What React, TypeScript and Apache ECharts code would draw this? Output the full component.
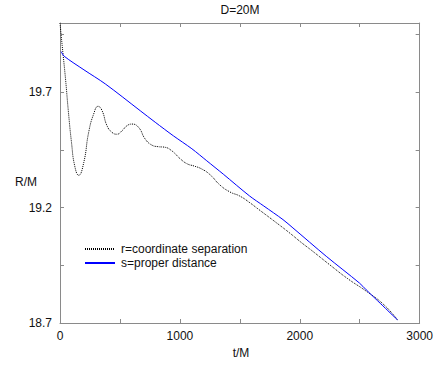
import React, { useEffect, useRef } from "react";
import * as echarts from "echarts";

const titleText = "D=20M";
const xName = "t/M";
const yName = "R/M";
const rName = "r=coordinate separation";
const sName = "s=proper distance";

const rTimes = [0, 18, 46, 68, 96, 123, 156, 198, 239, 281, 318, 351, 392, 434, 475, 517, 559, 600, 655, 711, 766, 820, 870, 933, 1002, 1060, 1120, 1180, 1251, 1334, 1417, 1500, 1584, 1650, 1806, 1916, 2010, 2110, 2248, 2400, 2554, 2700, 2816];
const rValues = [20.0, 19.903, 19.758, 19.627, 19.482, 19.38, 19.34, 19.395, 19.526, 19.606, 19.639, 19.62, 19.555, 19.526, 19.518, 19.533, 19.555, 19.562, 19.548, 19.497, 19.471, 19.464, 19.462, 19.446, 19.412, 19.39, 19.38, 19.368, 19.343, 19.298, 19.268, 19.25, 19.221, 19.195, 19.134, 19.09, 19.05, 19.01, 18.953, 18.892, 18.838, 18.78, 18.713];

const sTimes = [10, 35, 200, 378, 669, 794, 946, 1100, 1224, 1362, 1580, 1700, 1860, 1943, 2221, 2498, 2554, 2816];
const sValues = [19.876, 19.856, 19.797, 19.736, 19.62, 19.57, 19.511, 19.455, 19.403, 19.345, 19.251, 19.207, 19.148, 19.112, 18.989, 18.873, 18.844, 18.713];

const xTicks = { min: 0, max: 3000, step: 500, labelEvery: 1000 };
const yRange = { min: 18.7, max: 20.0 };
const yTickOffsets = { min: 0, max: 1.3, step: 0.25 };

const FONT = "'Liberation Sans', Arial, Helvetica, sans-serif";
const AXIS_COLOR = "#8a8a8a";

export default function App() {
  const ref = useRef<HTMLDivElement>(null);
  useEffect(() => {
    if (!ref.current) return;
    const chart = echarts.init(ref.current, null, { renderer: "svg" });
    const rData = rTimes.map((t, i) => [t, rValues[i]]);
    const sData = sTimes.map((t, i) => [t, sValues[i]]);
    const tickAxis = (pos: string, labels: boolean) => ({
      type: "value",
      position: pos,
      min: yTickOffsets.min,
      max: yTickOffsets.max,
      interval: yTickOffsets.step,
      axisLine: { show: true, lineStyle: { color: AXIS_COLOR, width: 1 } },
      axisTick: { show: true, inside: true, length: 4, lineStyle: { color: AXIS_COLOR } },
      splitLine: { show: false },
      axisLabel: {
        show: labels,
        margin: 8,
        fontSize: 12,
        fontFamily: FONT,
        color: "#111",
        showMaxLabel: false,
        formatter: (v: number) => {
          const k = Math.round(v / yTickOffsets.step);
          return k % 2 === 0 ? (yRange.min + v).toFixed(1) : "";
        },
      },
    });
    const xAxisDef = (pos: string, labels: boolean) => ({
      type: "value",
      position: pos,
      min: xTicks.min,
      max: xTicks.max,
      interval: xTicks.step,
      axisLine: { show: true, onZero: false, lineStyle: { color: AXIS_COLOR, width: 1 } },
      axisTick: { show: true, inside: true, length: 4, lineStyle: { color: AXIS_COLOR } },
      splitLine: { show: false },
      axisLabel: {
        show: labels,
        margin: 7,
        fontSize: 12,
        fontFamily: FONT,
        color: "#111",
        formatter: (v: number) => (v % xTicks.labelEvery === 0 ? String(v) : ""),
      },
    });
    chart.setOption({
      animation: false,
      backgroundColor: "#fff",
      grid: { left: 60, right: 15, top: 23, bottom: 44 },
      xAxis: [xAxisDef("bottom", true), xAxisDef("top", false)],
      yAxis: [
        { type: "value", show: false, min: yRange.min, max: yRange.max, splitLine: { show: false } },
        tickAxis("left", true),
        tickAxis("right", false),
      ],
      legend: {
        orient: "vertical",
        left: 79,
        top: 238,
        itemWidth: 30,
        itemHeight: 12,
        itemGap: 2,
        itemStyle: { opacity: 0 },
        textStyle: { fontSize: 12, fontFamily: FONT, color: "#111", padding: [0, 0, 0, 1] },
        data: [rName, sName],
      },
      graphic: [
        { type: "text", x: 240, y: 10, style: { text: titleText, align: "center", verticalAlign: "middle", font: `12px ${FONT}`, fill: "#111" } },
        { type: "text", x: 241, y: 353, style: { text: xName, align: "center", verticalAlign: "middle", font: `12px ${FONT}`, fill: "#111" } },
        { type: "text", x: 26, y: 182, style: { text: yName, align: "center", verticalAlign: "middle", font: `12px ${FONT}`, fill: "#111" } },
      ],
      series: [
        {
          name: rName,
          type: "line",
          xAxisIndex: 0,
          yAxisIndex: 0,
          data: rData,
          symbol: "none",
          smooth: 0.5,
          lineStyle: { color: "#000", width: 1, type: [1, 1] },
          itemStyle: { color: "#000" },
        },
        {
          name: sName,
          type: "line",
          xAxisIndex: 0,
          yAxisIndex: 0,
          data: sData,
          symbol: "none",
          smooth: 0.3,
          lineStyle: { color: "#0000ff", width: 1 },
          itemStyle: { color: "#0000ff" },
        },
      ],
    });
    return () => chart.dispose();
  }, []);
  return <div ref={ref} style={{ position: "fixed", left: 0, top: 0, width: 436, height: 367 }} />;
}
